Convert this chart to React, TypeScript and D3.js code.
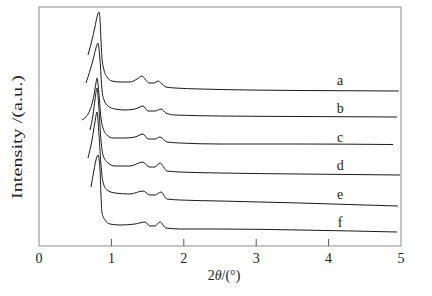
import * as d3 from "d3";

// 2θ (degrees) and intensity (a.u.)
const xA = [0.677, 0.732, 0.773, 0.801, 0.829, 0.843, 0.856, 0.87, 0.898, 0.939, 1.008, 1.119, 1.257, 1.354, 1.423, 1.464, 1.519, 1.588, 1.644, 1.685, 1.754, 1.878, 2.224, 2.914, 3.605, 4.97];
const yA = [191, 206, 219, 229, 234, 226, 206, 188, 176, 169, 165, 164, 164, 167, 170, 167, 163, 163, 165, 163, 159, 158, 157, 156, 155.5, 155];

const xB = [0.649, 0.746, 0.787, 0.815, 0.843, 0.87, 0.898, 0.953, 1.05, 1.188, 1.326, 1.436, 1.506, 1.602, 1.685, 1.754, 1.878, 2.5, 3.605, 4.945];
const yB = [163, 186, 198, 203, 186, 156, 146, 140, 137, 136, 137, 140, 135, 135, 137, 133, 131, 130, 129.5, 129];

const xC = [0.594, 0.704, 0.76, 0.787, 0.801, 0.829, 0.856, 0.884, 0.939, 1.022, 1.188, 1.326, 1.436, 1.506, 1.602, 1.671, 1.768, 1.948, 2.5, 3.605, 4.89];
const yC = [126, 136, 151, 163, 168, 151, 128, 118, 111, 108, 108, 109, 112, 107, 107, 109, 104, 103, 102, 102, 101.5];

const xD = [0.704, 0.746, 0.773, 0.801, 0.829, 0.856, 0.884, 0.939, 1.05, 1.257, 1.436, 1.519, 1.602, 1.671, 1.768, 1.948, 2.5, 3.605, 4.986];
const yD = [116, 131, 146, 158, 136, 106, 91, 84, 80, 80, 84, 79, 79, 83, 75, 74, 73, 72, 71];

const xE = [0.677, 0.732, 0.773, 0.801, 0.829, 0.856, 0.884, 0.939, 1.05, 1.257, 1.436, 1.533, 1.602, 1.685, 1.768, 1.948, 2.5, 3.605, 4.959];
const yE = [88, 106, 124, 134, 111, 81, 64, 56, 53, 52, 55, 51, 51, 54, 47, 46, 45, 43, 40];

const xF = [0.718, 0.76, 0.787, 0.815, 0.843, 0.856, 0.87, 0.912, 0.981, 1.119, 1.326, 1.464, 1.533, 1.602, 1.671, 1.754, 1.948, 2.5, 3.605, 4.945];
const yF = [59, 76, 86, 91, 76, 51, 33, 26, 22, 21, 22, 24, 20, 20, 24, 18, 17, 17, 16, 14];

const names = ["a", "b", "c", "d", "e", "f"];
const labelX = 4.16;
const labelY = [165, 137, 108, 80, 51, 23];
const xTicks = [0, 1, 2, 3, 4, 5];

export default function App() {
  const w = 432;
  const h = 296;
  const left = 39, right = 401, top = 7, bottom = 246;

  const x = d3.scaleLinear().domain([0, 5]).range([left, right]);
  const y = d3.scaleLinear().domain([0, 239]).range([bottom, top]);

  const line = d3
    .line<[number, number]>()
    .x((d) => x(d[0]))
    .y((d) => y(d[1]))
    .curve(d3.curveMonotoneX);

  const series = [
    [xA, yA],
    [xB, yB],
    [xC, yC],
    [xD, yD],
    [xE, yE],
    [xF, yF],
  ].map(([xs, ys]) => xs.map((v, i) => [v, ys[i]] as [number, number]));

  const font = "Liberation Serif, Times New Roman, Times, serif";

  return (
    <svg
      width={w}
      height={h}
      style={{ position: "absolute", left: 0, top: 0, background: "#fff", fontFamily: font }}
    >
      <rect x={left} y={top} width={right - left} height={bottom - top} fill="none" stroke="#8c8c8c" strokeWidth={1} />
      {xTicks.map((t) => (
        <g key={t}>
          {t > 0 && t < 5 && (
            <line x1={x(t)} x2={x(t)} y1={bottom} y2={bottom - 7} stroke="#555" strokeWidth={1} />
          )}
          <text x={x(t)} y={263} fontSize={14} textAnchor="middle" fill="#222">
            {t}
          </text>
        </g>
      ))}
      {series.map((pts, i) => (
        <path key={i} d={line(pts) || ""} fill="none" stroke="#1a1a1a" strokeWidth={1} />
      ))}
      {names.map((n, i) => (
        <text key={n} x={x(labelX)} y={y(labelY[i]) + 4} fontSize={14} textAnchor="middle" fill="#222">
          {n}
        </text>
      ))}
      <text x={224} y={280} fontSize={14} textAnchor="middle" fill="#222">
        2<tspan fontStyle="italic">θ</tspan>/(°)
      </text>
      <text
        transform="translate(22,137) rotate(-90)"
        fontSize={14}
        textAnchor="middle"
        fill="#222"
        textLength={124}
        lengthAdjust="spacingAndGlyphs"
      >
        Intensity /(a.u.)
      </text>
    </svg>
  );
}
